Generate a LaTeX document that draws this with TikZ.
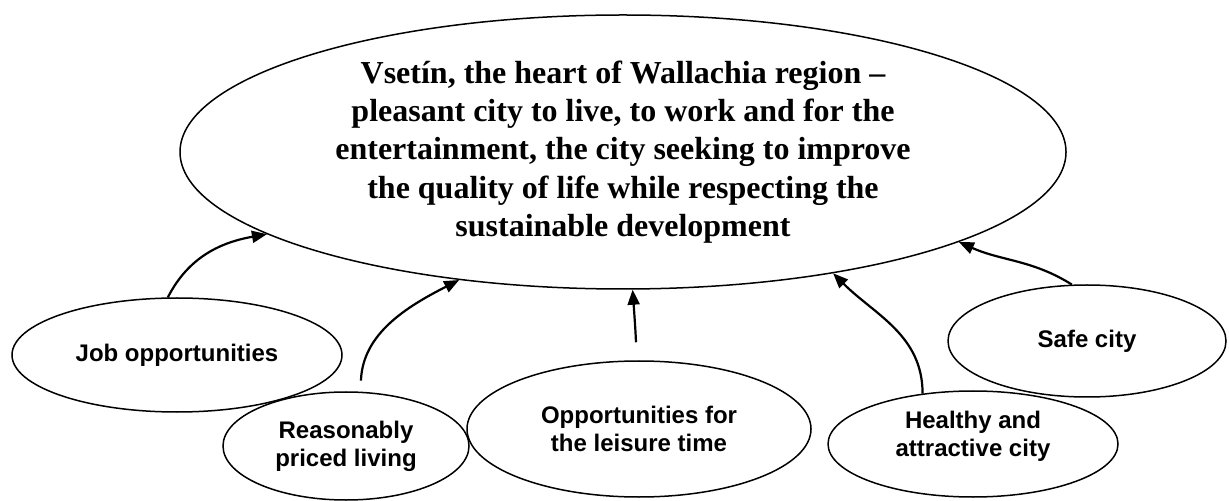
\documentclass[tikz,border=0pt]{standalone}
\usepackage{fontspec}
\setmainfont{Liberation Serif}
\newfontfamily\arialfont{Liberation Sans}
\usetikzlibrary{shapes.geometric,arrows.meta}
\tikzset{
  goal/.style={ellipse,draw,line width=0.75pt,inner sep=0pt,align=center,
    font=\fontsize{16pt}{19.1pt}\selectfont\bfseries},
  factor/.style={ellipse,draw,line width=0.75pt,inner sep=0pt,align=center,fill=white,
    font=\arialfont\fontsize{12pt}{14pt}\selectfont\bfseries},
  factortext/.style={inner sep=0pt,align=center,
    font=\arialfont\fontsize{12pt}{14pt}\selectfont\bfseries},
  link/.style={line width=1.1pt,-{Triangle[length=7.5pt,width=6pt]}}
}
\begin{document}
\begin{tikzpicture}[x=0.5pt,y=-0.5pt]
\useasboundingbox (0,0) rectangle (1229,501);
\node[goal,minimum width=443pt,minimum height=137pt] (goal) at (623,152)
  {Vsetín, the heart of Wallachia region –\\pleasant city to live, to work and for the\\entertainment, the city seeking to improve\\the quality of life while respecting the\\sustainable development};
\node[factor,minimum width=165pt,minimum height=57pt] (job) at (177,355) {Job opportunities};
\node[factor,minimum width=123pt,minimum height=54pt] (price) at (346,446) {Reasonably\\priced living};
\node[factor,minimum width=172pt,minimum height=68pt] (leisure) at (639,429) {Opportunities for\\the leisure time};
\node[factor,minimum width=145pt,minimum height=53pt] (health) at (973,444) {};
\node[factortext] (healthtext) at (973,436) {Healthy and\\attractive city};
\node[factor,minimum width=139pt,minimum height=56pt] (safe) at (1087,341) {Safe city};
\draw[link] (job.99.5) to[out=63,in=190] (goal.193.7);
\draw[link,shorten <=5.5pt] (price.75.5) to[out=88,in=207] (goal.218.4);
\draw[link,shorten <=9pt] (leisure.92) to[out=92,in=-86] (goal.274.6);
\draw[link] (health.135.8) to[out=90,in=-45] (goal.330.3);
\draw[link] (safe.105) to[out=148,in=-24] (goal.345.6);
\end{tikzpicture}
\end{document}
